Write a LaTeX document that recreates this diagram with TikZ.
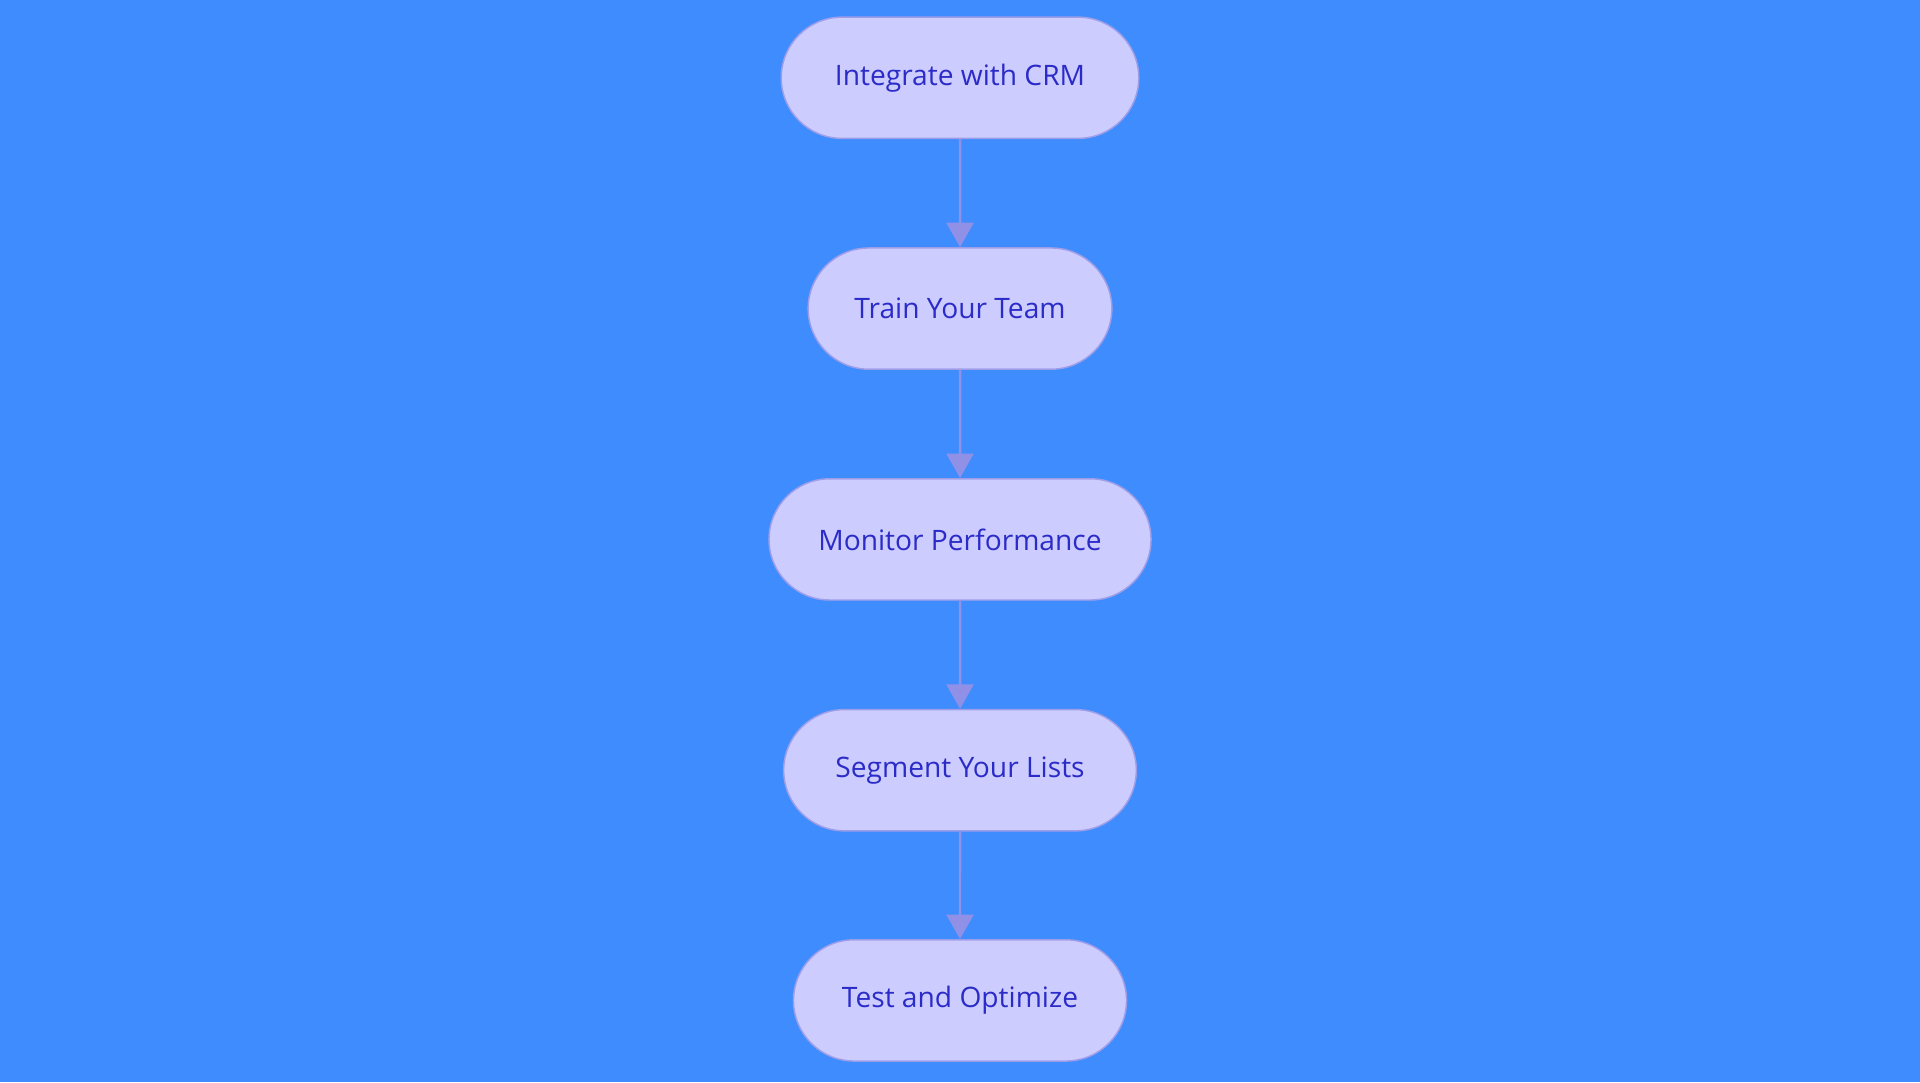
\documentclass[tikz,border=0pt]{standalone}
\usepackage{fontspec}
\setmainfont{Open Sans}
\definecolor{bg}{HTML}{3F8CFF}
\definecolor{nfill}{HTML}{CCCCFF}
\definecolor{nline}{HTML}{9E9EE8}
\definecolor{ntext}{HTML}{2B2BC8}
\definecolor{arr}{HTML}{9090E6}
\usetikzlibrary{arrows.meta}
\begin{document}
\begin{tikzpicture}[x=1pt,y=-1pt,
 box/.style={rounded rectangle, draw=nline, line width=1.2pt, fill=nfill, text=ntext, minimum height=99pt, inner sep=0pt, font=\fontsize{23}{28}\selectfont},
 link/.style={draw=arr, line width=2pt, -{Triangle[length=20pt,width=22pt]}}]
\usetikzlibrary{shapes.misc}
\fill[bg] (0,0) rectangle (1568,884);
\useasboundingbox (0,0) rectangle (1568,884);
\node[box, minimum width=292pt] (a) at (784,63.5) {Integrate with CRM};
\node[box, minimum width=248pt] (b) at (784,252) {Train Your Team};
\node[box, minimum width=312pt] (c) at (784,440.5) {Monitor Performance};
\node[box, minimum width=288pt] (d) at (784,629) {Segment Your Lists};
\node[box, minimum width=272pt] (e) at (784,817) {Test and Optimize};
\draw[link] (a) -- (b);
\draw[link] (b) -- (c);
\draw[link] (c) -- (d);
\draw[link] (d) -- (e);
\end{tikzpicture}
\end{document}
